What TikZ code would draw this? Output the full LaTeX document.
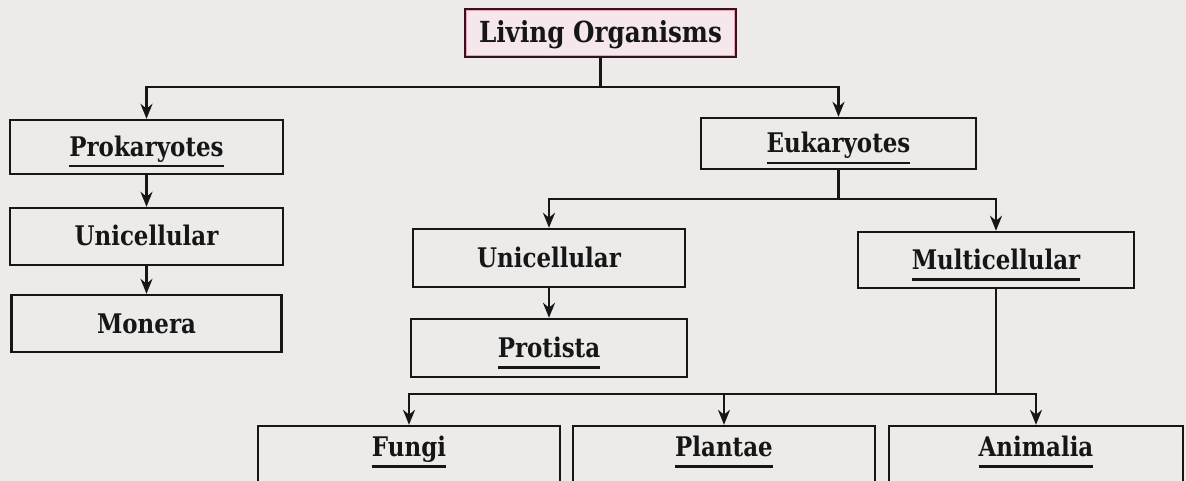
\documentclass[tikz,border=0pt]{standalone}
\usepackage{fontspec}
\setmainfont{DejaVu Serif}[FakeStretch=0.85]
\usetikzlibrary{arrows.meta}
\definecolor{paper}{RGB}{236,235,233}
\definecolor{ink}{RGB}{22,22,22}
\definecolor{topline}{RGB}{55,18,26}
\definecolor{topfill}{RGB}{246,231,236}
\definecolor{toppink}{RGB}{228,165,185}
\newcommand\ulword[1]{\sbox0{#1}\rlap{\usebox0}\rule[-11pt]{\wd0}{2.2pt}}
\tikzset{
  box/.style={draw=ink, line width=2.4pt, rectangle, inner sep=0pt,
    text height=19pt, text depth=0pt, text=ink,
    font=\fontsize{27}{32}\selectfont\bfseries},
  bottombox/.style={box, minimum height=70pt, text depth=28pt, minimum width=302pt},
  topbox/.style={box, draw=topline, fill=topfill, font=\fontsize{29}{34}\selectfont\bfseries},
  conn/.style={draw=ink, line width=2.4pt},
  arr/.style={conn, -{Stealth[length=15pt,width=12pt]}}
}
\begin{document}
\begin{tikzpicture}[x=1pt,y=-1pt]
\path[use as bounding box] (0,0) rectangle (1186,481);
\clip (0,0) rectangle (1186,481);
\fill[paper] (0,0) rectangle (1186,481);

\node[topbox, minimum width=271pt, minimum height=48pt] (living) at (600.5,33) {Living Organisms};
\draw[toppink, line width=1.4pt] ([shift={(2.6pt,-2.6pt)}]living.north west) rectangle ([shift={(-2.6pt,2.6pt)}]living.south east);

\node[box, minimum width=273pt, minimum height=54pt] (prok) at (146.5,147) {\ulword{Prokaryotes}};
\node[box, minimum width=273pt, minimum height=57pt] (uni1) at (146.5,236.5) {Unicellular};
\node[box, minimum width=270pt, minimum height=57pt] (mon) at (146.5,323.5) {Monera};

\node[box, minimum width=275pt, minimum height=51pt] (euk) at (838.5,143.5) {\ulword{Eukaryotes}};
\node[box, minimum width=272pt, minimum height=58pt] (uni2) at (549,258) {Unicellular};
\node[box, minimum width=276pt, minimum height=58pt] (prot) at (549,348) {\ulword{Protista}};
\node[box, minimum width=276pt, minimum height=56pt] (multi) at (996,260) {\ulword{Multicellular}};

\node[bottombox] (fungi) at (409,461) {\ulword{Fungi}};
\node[bottombox] (plant) at (724,461) {\ulword{Plantae}};
\node[bottombox, minimum width=294pt] (anim) at (1036,461) {\ulword{Animalia}};

\coordinate (j1) at (600.5,87);
\coordinate (j2) at (838.5,199);
\coordinate (j3) at (996,394);

\draw[conn] (living.south) -- (j1);
\draw[arr] (j1) -| (prok.north);
\draw[arr] (j1) -| (euk.north);
\draw[arr] (prok.south) -- (uni1.north);
\draw[arr] (uni1.south) -- (mon.north);

\draw[conn] (euk.south) -- (j2);
\draw[arr] (j2) -| (uni2.north);
\draw[arr] (j2) -| (multi.north);
\draw[arr] (uni2.south) -- (prot.north);

\draw[conn] (multi.south) -- (j3);
\draw[arr] (j3) -| (anim.north);
\draw[arr] (j3) -| (fungi.north);
\draw[arr] (plant.north |- j3) -- (plant.north);
\end{tikzpicture}
\end{document}
